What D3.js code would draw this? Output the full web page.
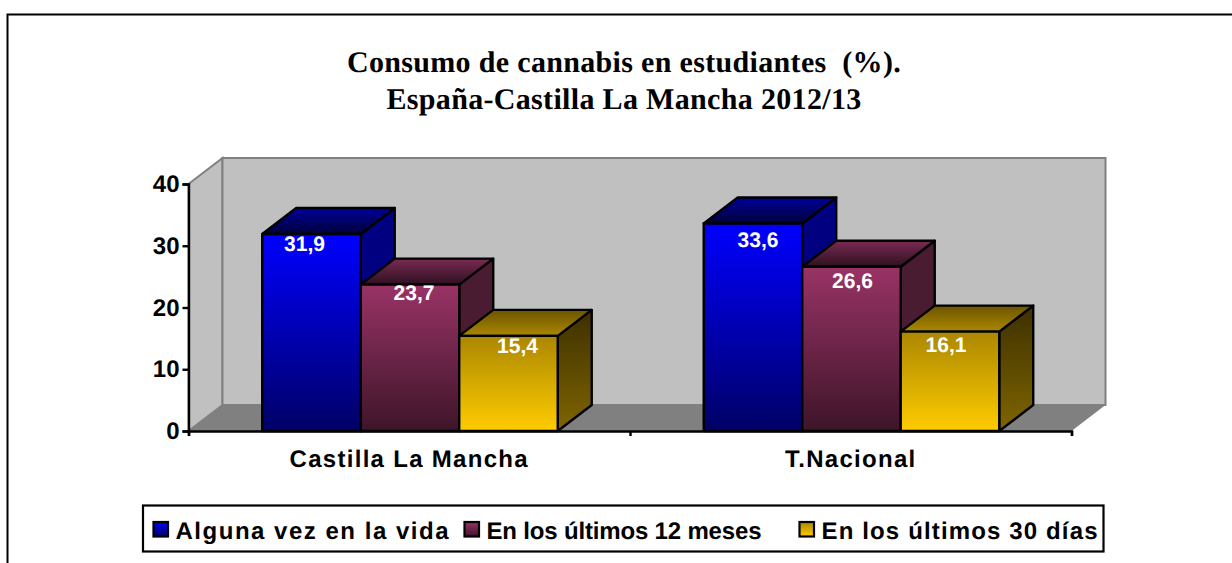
<!DOCTYPE html>
<html lang="es">
<head>
<meta charset="utf-8">
<script src="https://cdn.jsdelivr.net/npm/d3@7/dist/d3.min.js"></script>
<style>
html,body{margin:0;padding:0;background:#fff;overflow:hidden}
svg{display:block}
text{text-rendering:geometricPrecision}
</style>
</head>
<body>
<svg id="chart" width="1232" height="563"></svg>
<script>
const titleLines = ["Consumo de cannabis en estudiantes  (%).", "España-Castilla La Mancha 2012/13"];
const categories = ["Castilla La Mancha", "T.Nacional"];
const seriesNames = ["Alguna vez en la vida", "En los últimos 12 meses", "En los últimos 30 días"];
const alguna = [31.9, 33.6];
const meses12 = [23.7, 26.6];
const dias30 = [15.4, 16.1];
const yTicks = [0, 10, 20, 30, 40];
const valueLabels = [["31,9", "33,6"], ["23,7", "26,6"], ["15,4", "16,1"]];

const seriesValues = [alguna, meses12, dias30];
// hand-placed data-label offsets seen in the picture (px from bar centre / top)
const labelShift = [[[-7, 10], [5, 16]], [[4, 8], [1, 14]], [[9, 10], [-4, 13]]];

const palette = [
  {front: ["#0000ff", "#000066"], top: ["#000099", "#00003a"], side: ["#000080", "#000080"]},
  {front: ["#993366", "#3d1528"], top: ["#7a2a52", "#2e1020"], side: ["#4a1c32", "#4a1c32"]},
  {front: ["#ab8700", "#ffcc00"], top: ["#6b5500", "#ab8700"], side: ["#3d3000", "#7f6500"]}
];

const svg = d3.select("#chart");
const m = {l: 188.5, r: 1071.5, t: 184, b: 431};
const depth = {x: 34, y: 26};

const x0 = d3.scaleBand().domain(categories).range([m.l, m.r]);
const x1 = d3.scaleBand().domain(d3.range(seriesNames.length)).range([0, x0.bandwidth()])
  .paddingInner(0).paddingOuter(0.741).align(0.505);
const y = d3.scaleLinear().domain([0, 40]).range([m.b, m.t]);

// gradients
const defs = svg.append("defs");
function grad(id, cols) {
  const g = defs.append("linearGradient").attr("id", id).attr("x1", 0).attr("y1", 0).attr("x2", 0).attr("y2", 1);
  g.append("stop").attr("offset", "0").attr("stop-color", cols[0]);
  g.append("stop").attr("offset", "1").attr("stop-color", cols[1]);
}
palette.forEach((p, i) => { grad("f" + i, p.front); grad("t" + i, p.top); grad("s" + i, p.side); });

// chart frame (runs past the right and bottom edges of the picture)
svg.append("rect").attr("x", 7.5).attr("y", 14.5).attr("width", 1300).attr("height", 700)
  .attr("fill", "#fff").attr("stroke", "#000").attr("stroke-width", 2);

// title
svg.append("g").selectAll("text").data(titleLines).join("text")
  .attr("x", 624).attr("y", (d, i) => 71.5 + i * 37)
  .attr("text-anchor", "middle").attr("font-family", "'Liberation Serif',serif")
  .attr("font-weight", "bold").attr("font-size", 30).attr("letter-spacing", 0.33).attr("xml:space", "preserve")
  .style("white-space", "pre").text(d => d);

// 3D walls
const line = d3.line();
const poly = pts => line(pts) + "Z";
const back = {l: m.l + depth.x, r: m.r + depth.x, t: m.t - depth.y, b: m.b - depth.y};
const walls = svg.append("g").attr("stroke", "#808080").attr("stroke-width", 2).attr("stroke-linejoin", "miter");
walls.append("path").attr("fill", "#c0c0c0")
  .attr("d", poly([[m.l, m.t], [back.l, back.t], [back.l, back.b], [m.l, m.b]]));
walls.append("path").attr("fill", "#c0c0c0")
  .attr("d", poly([[back.l, back.t], [back.r, back.t], [back.r, back.b], [back.l, back.b]]));
walls.append("path").attr("fill", "#808080").attr("stroke", "none")
  .attr("d", poly([[m.l, m.b], [back.l, back.b], [back.r, back.b], [m.r, m.b]]));

// 3D bars, drawn back-to-front from left to right per group
const bars = svg.append("g").attr("stroke", "#000").attr("stroke-width", 2.4).attr("stroke-linejoin", "round");
categories.forEach((cat, c) => {
  seriesNames.forEach((s, i) => {
    const v = seriesValues[i][c];
    const xl = x0(cat) + x1(i), xr = xl + x1.bandwidth(), yt = y(v), yb = y(0);
    const g = bars.append("g");
    g.append("path").attr("fill", `url(#s${i})`)
      .attr("d", poly([[xr, yt], [xr + depth.x, yt - depth.y], [xr + depth.x, yb - depth.y], [xr, yb]]));
    g.append("path").attr("fill", `url(#t${i})`)
      .attr("d", poly([[xl, yt], [xl + depth.x, yt - depth.y], [xr + depth.x, yt - depth.y], [xr, yt]]));
    g.append("rect").attr("x", xl).attr("y", yt).attr("width", xr - xl).attr("height", yb - yt)
      .attr("fill", `url(#f${i})`);
  });
});

// value labels
categories.forEach((cat, c) => {
  seriesNames.forEach((s, i) => {
    const xc = x0(cat) + x1(i) + x1.bandwidth() / 2;
    svg.append("text").attr("x", xc + labelShift[i][c][0]).attr("y", y(seriesValues[i][c]) + labelShift[i][c][1])
      .attr("dy", "0.35em").attr("text-anchor", "middle")
      .attr("font-family", "'Liberation Sans',sans-serif").attr("font-weight", "bold").attr("font-size", 21)
      .attr("fill", "#fff").text(valueLabels[i][c]);
  });
});

// axes
const yAxis = svg.append("g").attr("transform", `translate(${m.l},0)`)
  .call(d3.axisLeft(y).tickValues(yTicks).tickSize(6).tickPadding(3).tickFormat(d3.format("d")));
yAxis.selectAll("text").attr("font-family", "'Liberation Sans',sans-serif")
  .attr("font-weight", "bold").attr("fill", "#000").attr("font-size", 24);
yAxis.selectAll("path,line").attr("stroke", "#000").attr("stroke-width", 2.4);

const xAxis = svg.append("g").attr("transform", `translate(0,${m.b})`)
  .call(d3.axisBottom(d3.scaleLinear().domain([0, categories.length]).range([m.l, m.r]))
    .tickValues(d3.range(categories.length + 1)).tickSize(5).tickFormat(""));
xAxis.selectAll("path,line").attr("stroke", "#000").attr("stroke-width", 2.4);
svg.append("g").selectAll("text").data(categories).join("text")
  .attr("x", d => x0(d) + x0.bandwidth() / 2).attr("y", 466.5)
  .attr("text-anchor", "middle").attr("font-family", "'Liberation Sans',sans-serif")
  .attr("font-weight", "bold").attr("font-size", 24).attr("letter-spacing", 1.3).text(d => d);

// legend
const legend = svg.append("g");
legend.append("rect").attr("x", 143).attr("y", 505.5).attr("width", 960.5).attr("height", 46)
  .attr("fill", "#fff").attr("stroke", "#000").attr("stroke-width", 2.2);
const swatchX = [153.5, 464.5, 799.5];
const legendTextWidth = [273, 275, 276];
seriesNames.forEach((s, i) => {
  legend.append("rect").attr("x", swatchX[i]).attr("y", 522).attr("width", 14.5).attr("height", 14.5)
    .attr("fill", `url(#f${i})`).attr("stroke", "#000").attr("stroke-width", 2.2);
  legend.append("text").attr("x", swatchX[i] + 22).attr("y", 538.5)
    .attr("font-family", "'Liberation Sans',sans-serif").attr("font-weight", "bold")
    .attr("font-size", 24).attr("textLength", legendTextWidth[i]).attr("lengthAdjust", "spacing").text(s);
});
</script>
</body>
</html>
